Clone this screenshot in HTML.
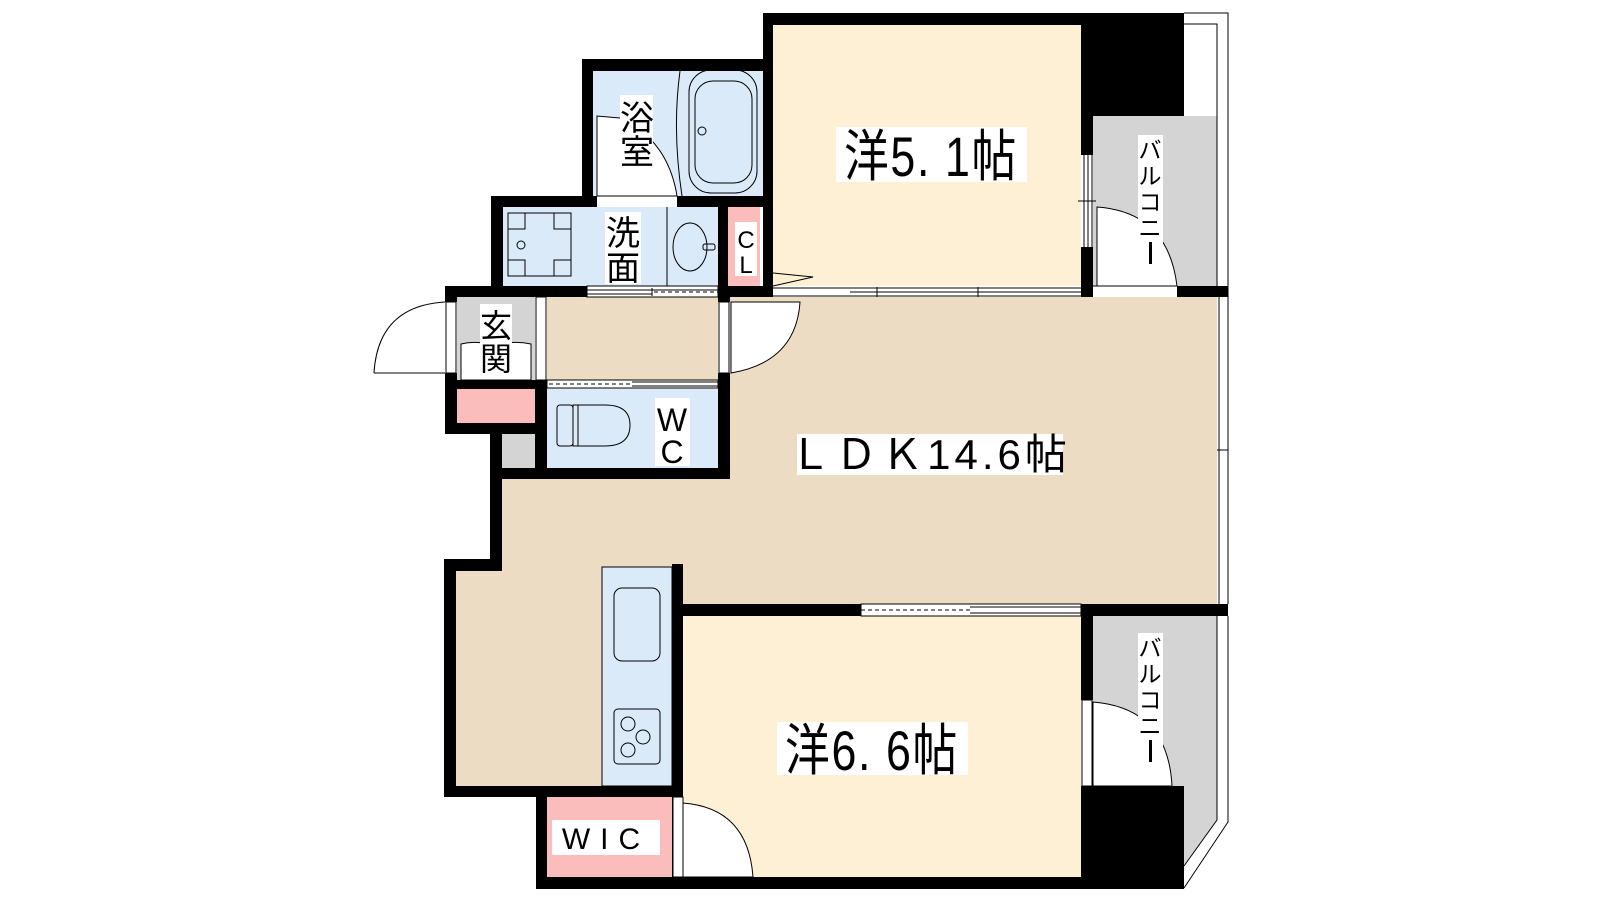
<!DOCTYPE html>
<html><head><meta charset="utf-8"><style>
html,body{margin:0;padding:0;background:#fff;}
svg{display:block;}
text{font-family:"Liberation Sans","Noto Sans CJK JP",sans-serif;fill:#000;}
</style></head><body>
<svg width="1600" height="900" viewBox="0 0 1600 900" xmlns="http://www.w3.org/2000/svg">
<g stroke="none">
  <rect x="730" y="297" width="487" height="307" fill="#eddcc4"/>
  <rect x="502" y="478" width="240" height="126" fill="#eddcc4"/>
  <rect x="456" y="570" width="230" height="216" fill="#eddcc4"/>
  <rect x="547" y="297" width="171" height="83" fill="#eddcc4"/>
  <rect x="773" y="25" width="308" height="261" fill="#fdf0d4"/>
  <rect x="683" y="616" width="398" height="261" fill="#fdf0d4"/>
  <rect x="593" y="71" width="170" height="125" fill="#dbeaf9"/>
  <rect x="503" y="207" width="215" height="79" fill="#dbeaf9"/>
  <rect x="547" y="388" width="171" height="80" fill="#dbeaf9"/>
  <rect x="602" y="567" width="70" height="219" fill="#dbeaf9" stroke="#000" stroke-width="1"/>
  <rect x="728" y="207" width="32" height="79" fill="#fbbcbc"/>
  <rect x="456" y="389" width="79" height="34" fill="#fbbcbc"/>
  <rect x="547" y="797" width="125" height="80" fill="#fbbcbc"/>
  <rect x="457" y="297" width="78" height="83" fill="#d4d4d4"/>
  <rect x="502" y="434" width="33" height="34" fill="#d4d4d4"/>
  <rect x="1093" y="116" width="124" height="170" fill="#d4d4d4"/>
  <path d="M1093 616 H1217 V820 L1184 866 V786 H1093 Z" fill="#d4d4d4"/>
</g>
<path d="M461 380 V344 Q478 340 495 346 Q512 340 531 344 V380 Z" fill="#fff" stroke="#000" stroke-width="1"/>
<path d="M597 196 V116 L620 118 Q668 140 677 196 Z" fill="#fff" stroke="#000" stroke-width="1"/>
<g fill="#000">
  <rect x="763" y="13" width="421" height="12"/>
  <rect x="763" y="13" width="10" height="283"/>
  <rect x="1081" y="13" width="103" height="103"/>
  <rect x="1081" y="13" width="12" height="142"/>
  <rect x="1081" y="247" width="12" height="50"/>
  <rect x="1177" y="286" width="51" height="11"/>
  <rect x="582" y="59" width="191" height="12"/>
  <rect x="582" y="59" width="11" height="148"/>
  <rect x="677" y="196" width="96" height="11"/>
  <rect x="491" y="196" width="106" height="11"/>
  <rect x="491" y="196" width="12" height="101"/>
  <rect x="718" y="196" width="10" height="101"/>
  <rect x="445" y="286" width="142" height="11"/>
  <rect x="718" y="286" width="55" height="11"/>
  <rect x="445" y="286" width="12" height="16"/>
  <rect x="445" y="373" width="12" height="61"/>
  <rect x="445" y="423" width="102" height="11"/>
  <rect x="445" y="380" width="102" height="9"/>
  <rect x="535" y="380" width="12" height="99"/>
  <rect x="490" y="423" width="12" height="148"/>
  <rect x="718" y="297" width="12" height="5"/>
  <rect x="718" y="373" width="12" height="106"/>
  <rect x="490" y="468" width="240" height="11"/>
  <rect x="444" y="559" width="58" height="12"/>
  <rect x="444" y="559" width="12" height="238"/>
  <rect x="444" y="786" width="239" height="11"/>
  <rect x="672" y="564" width="11" height="325"/>
  <rect x="683" y="604" width="178" height="12"/>
  <rect x="1081" y="604" width="147" height="12"/>
  <rect x="1081" y="604" width="12" height="96"/>
  <rect x="1081" y="786" width="103" height="103"/>
  <rect x="536" y="877" width="648" height="12"/>
  <rect x="536" y="786" width="11" height="103"/>
</g>
<g fill="none" stroke="#000" stroke-width="1">
  <line x1="773" y1="288" x2="1081" y2="288"/>
  <line x1="773" y1="296" x2="1081" y2="296"/>
  <line x1="850" y1="292" x2="1081" y2="292"/>
  <line x1="877" y1="287" x2="877" y2="297"/><line x1="978" y1="287" x2="978" y2="297"/>
  <polyline points="773,273 813,277 773,286"/>
  <line x1="1084" y1="155" x2="1084" y2="247"/><line x1="1088" y1="155" x2="1088" y2="247"/><line x1="1092" y1="155" x2="1092" y2="247"/>
  <line x1="1078" y1="201" x2="1096" y2="201"/>
  <path d="M1097 286 V207 Q1168 212 1177 286 Z" fill="#fff"/>
  <line x1="1093" y1="286" x2="1177" y2="286"/>
  <polyline points="1184,13 1228,13 1228,604"/>
  <polyline points="1184,24 1217,24 1217,286"/>
  <line x1="1219" y1="297" x2="1219" y2="604"/>
  <line x1="1217" y1="450" x2="1228" y2="450"/>
  <polyline points="1217,616 1217,820 1184,866"/>
  <polyline points="1228,616 1228,822 1184,888"/>
  <path d="M1093 786 V702 Q1168 708 1172 786 Z" fill="#fff"/>
  <rect x="1082" y="700" width="10" height="86" fill="#fff"/>
  <rect x="861" y="604" width="220" height="12" fill="#fff"/>
  <line x1="861" y1="610" x2="970" y2="610" stroke-dasharray="4,3"/>
  <line x1="970" y1="607" x2="1081" y2="607"/><line x1="970" y1="613" x2="1081" y2="613"/>
  <rect x="587" y="286" width="131" height="11" fill="#fff"/>
  <line x1="587" y1="290" x2="718" y2="290"/><line x1="587" y1="294" x2="652" y2="294"/>
  <line x1="654" y1="292" x2="718" y2="292" stroke-dasharray="4,3"/>
  <line x1="652" y1="288" x2="652" y2="296"/>
  <rect x="547" y="380" width="171" height="8" fill="#fff"/>
  <line x1="549" y1="384" x2="632" y2="384" stroke-dasharray="4,3"/>
  <line x1="632" y1="382" x2="718" y2="382"/><line x1="632" y1="386" x2="718" y2="386"/>
  <rect x="536" y="297" width="10" height="83" fill="#fff"/>
  <rect x="446" y="302" width="10" height="71" fill="#fff"/>
  <rect x="719" y="302" width="10" height="71" fill="#fff"/>
  <path d="M374 373 Q378 306 445 302"/>
  <line x1="374" y1="373" x2="445" y2="373"/>
  <path d="M731 302 H800 Q796 362 731 373 Z" fill="#fff"/>
  <rect x="673" y="797" width="10" height="80" fill="#fff"/>
  <path d="M683 877 V803 Q748 808 753 877 Z" fill="#fff"/>
  <path d="M680 71 Q672 130 682 196"/>
  <rect x="689" y="70" width="68" height="123" rx="22"/>
  <rect x="695" y="81" width="57" height="102" rx="18"/>
  <circle cx="702" cy="131" r="4"/>
  <rect x="508" y="213" width="63" height="63"/>
  <rect x="508" y="213" width="17" height="16"/><rect x="554" y="213" width="17" height="16"/>
  <rect x="508" y="260" width="17" height="16"/><rect x="554" y="260" width="17" height="16"/>
  <circle cx="521" cy="245" r="4"/>
  <line x1="667" y1="207" x2="667" y2="286"/>
  <ellipse cx="690" cy="247" rx="17" ry="24"/>
  <rect x="703" y="244" width="12" height="6" rx="2"/>
  <rect x="557" y="405" width="16" height="41" rx="3"/>
  <path d="M573 405 H605 Q630 405 630 425 Q630 446 605 446 H573 Z"/>
  <line x1="578" y1="405" x2="578" y2="446"/>
  <rect x="614" y="588" width="46" height="73" rx="8"/>
  <rect x="614" y="709" width="46" height="55" rx="4"/>
  <circle cx="628" cy="724" r="7"/><circle cx="643" cy="737" r="7"/><circle cx="628" cy="750" r="7"/>
</g>
<g fill="#fff">
  <rect x="620" y="95" width="33" height="72"/>
  <rect x="605" y="212" width="36" height="72"/>
  <rect x="735" y="222" width="22" height="54"/>
  <rect x="480" y="304" width="32" height="70"/>
  <rect x="655" y="398" width="35" height="68"/>
  <rect x="836" y="127" width="191" height="55"/>
  <rect x="797" y="434" width="266" height="41"/>
  <rect x="777" y="722" width="191" height="53"/>
  <rect x="552" y="820" width="108" height="35"/>
  <rect x="1138" y="135" width="25" height="134"/>
  <rect x="1138" y="633" width="25" height="134"/>
</g>
<g>
  <text x="637" y="130" font-size="34" text-anchor="middle">浴</text>
  <text x="637" y="164" font-size="34" text-anchor="middle">室</text>
  <text x="623" y="245" font-size="34" text-anchor="middle">洗</text>
  <text x="623" y="280" font-size="34" text-anchor="middle">面</text>
  <text x="746" y="248" font-size="24" text-anchor="middle">C</text>
  <text x="746" y="273" font-size="24" text-anchor="middle">L</text>
  <text x="496" y="337" font-size="32" text-anchor="middle">玄</text>
  <text x="496" y="370" font-size="32" text-anchor="middle">関</text>
  <text x="672" y="431" font-size="32" text-anchor="middle">W</text>
  <text x="672" y="463" font-size="32" text-anchor="middle">C</text>
  <text x="931" y="176" font-size="56" text-anchor="middle" letter-spacing="2" transform="translate(931 0) scale(0.8 1) translate(-931 0)">洋5. 1帖</text>
  <text x="930" y="469" font-size="42" text-anchor="middle" letter-spacing="4">ＬＤＫ14.6帖</text>
  <text x="872" y="770" font-size="56" text-anchor="middle" letter-spacing="2" transform="translate(872 0) scale(0.8 1) translate(-872 0)">洋6. 6帖</text>
  <text x="606" y="849" font-size="30" text-anchor="middle" letter-spacing="10">WIC</text>
  <g font-size="23" text-anchor="middle">
    <text x="1150" y="158">バ</text><text x="1150" y="184">ル</text><text x="1150" y="210">コ</text><text x="1150" y="236">ニ</text>
    <text x="1150" y="656">バ</text><text x="1150" y="682">ル</text><text x="1150" y="708">コ</text><text x="1150" y="734">ニ</text>
  </g>
  <rect x="1149" y="242" width="3" height="22" fill="#000"/>
  <rect x="1149" y="740" width="3" height="22" fill="#000"/>
</g>
</svg>
</body></html>
